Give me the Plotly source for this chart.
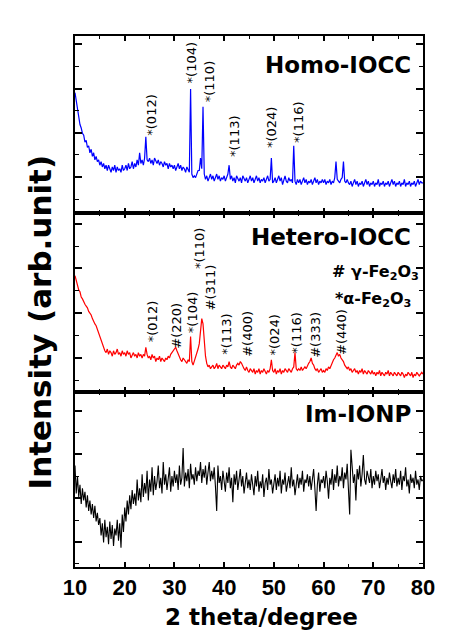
import plotly.graph_objects as go

# 2-theta sampling grid (degrees)
two_theta = [round(10 + 0.25 * i, 2) for i in range(281)]

# Homo-IOCC (blue, top panel), arbitrary units 0-100
homo = (
    [68, 63, 58, 55, 50, 48, 45, 44, 40, 41, 37, 38, 34, 36, 32, 34, 30, 32, 29, 30] +
    [27, 29, 26, 28, 25, 27, 24, 27, 25, 23, 26, 24, 27, 23, 26, 24, 25, 23, 27, 24] +
    [25, 27, 24, 28, 25, 26, 29, 25, 28, 26, 30, 27, 34, 28, 30, 27, 31, 43, 30, 29] +
    [31, 28, 30, 27, 31, 29, 28, 30, 27, 29, 28, 26, 29, 27, 28, 25, 28, 26, 27, 25] +
    [27, 24, 26, 28, 25, 27, 24, 26, 25, 23, 26, 24, 23, 70, 22, 20, 21, 20, 22, 24] +
    [24, 31, 25, 60, 22, 19, 21, 18, 20, 22, 19, 21, 18, 20, 22, 19, 21, 18, 20, 19] +
    [21, 18, 20, 22, 27, 19, 21, 18, 20, 17, 21, 19, 18, 20, 17, 21, 19, 18, 20, 17] +
    [19, 21, 18, 20, 17, 19, 21, 18, 20, 17, 19, 18, 20, 17, 19, 21, 18, 19, 31, 17] +
    [18, 20, 17, 19, 21, 18, 20, 16, 19, 21, 18, 17, 20, 18, 19, 17, 38, 18, 16, 19] +
    [17, 19, 16, 18, 20, 17, 19, 16, 18, 17, 19, 16, 18, 20, 17, 19, 16, 18, 17, 19] +
    [17, 19, 16, 18, 17, 19, 16, 18, 17, 20, 29, 19, 18, 17, 19, 20, 29, 18, 17, 19] +
    [17, 16, 18, 15, 17, 19, 16, 18, 15, 17, 16, 18, 15, 17, 19, 16, 18, 15, 17, 16] +
    [18, 15, 17, 16, 19, 15, 17, 16, 18, 15, 17, 16, 18, 15, 17, 19, 16, 18, 15, 17] +
    [16, 18, 15, 17, 16, 19, 15, 17, 16, 18, 15, 17, 16, 18, 15, 17, 19, 16, 18, 17] +
    [17]
)

# Hetero-IOCC (red, middle panel)
hetero = (
    [65, 62, 60, 57, 56, 53, 52, 50, 49, 48, 47, 45, 44, 43, 41, 39, 38, 37, 35, 33] +
    [30, 28, 26, 24, 23, 22, 24, 21, 23, 22, 20, 23, 21, 22, 24, 21, 22, 20, 23, 21] +
    [22, 20, 23, 21, 22, 19, 21, 22, 20, 21, 19, 22, 20, 21, 19, 21, 20, 25, 21, 19] +
    [20, 18, 21, 19, 20, 17, 19, 18, 20, 17, 19, 18, 17, 19, 18, 20, 19, 21, 22, 23] +
    [24, 25, 23, 21, 19, 18, 17, 19, 18, 17, 16, 18, 17, 31, 17, 15, 17, 19, 21, 24] +
    [27, 33, 41, 38, 28, 20, 16, 14, 15, 13, 14, 15, 13, 14, 16, 13, 15, 14, 13, 15] +
    [14, 13, 15, 14, 17, 14, 13, 15, 14, 13, 15, 16, 15, 17, 16, 14, 13, 12, 14, 12] +
    [11, 13, 12, 11, 13, 10, 12, 11, 13, 10, 12, 11, 13, 11, 10, 12, 11, 13, 18, 12] +
    [11, 13, 10, 12, 11, 13, 10, 12, 11, 13, 12, 11, 13, 12, 11, 13, 14, 22, 13, 12] +
    [13, 12, 14, 12, 13, 14, 13, 15, 16, 17, 19, 16, 15, 13, 12, 13, 11, 12, 13, 11] +
    [12, 11, 13, 12, 14, 13, 15, 16, 18, 19, 21, 22, 20, 21, 19, 18, 17, 15, 14, 13] +
    [14, 12, 13, 11, 12, 13, 11, 12, 10, 12, 11, 13, 10, 12, 11, 10, 12, 11, 10, 12] +
    [10, 11, 9, 11, 10, 12, 9, 11, 10, 9, 11, 10, 12, 9, 11, 10, 9, 11, 10, 9] +
    [11, 10, 9, 11, 10, 8, 10, 9, 11, 10, 9, 11, 8, 10, 9, 11, 10, 9, 10, 11] +
    [10]
)

# Im-IONP (black, bottom panel)
ionp = (
    [58, 42, 52, 40, 47, 36, 45, 38, 43, 34, 41, 32, 38, 30, 36, 28, 35, 26, 31, 24] +
    [28, 18, 25, 14, 27, 17, 23, 13, 26, 16, 24, 12, 22, 18, 27, 15, 25, 11, 30, 20] +
    [34, 26, 38, 30, 41, 33, 44, 36, 42, 35, 50, 38, 45, 37, 53, 40, 48, 42, 55, 38] +
    [50, 43, 57, 41, 52, 44, 49, 58, 45, 51, 42, 60, 47, 53, 44, 50, 57, 43, 52, 46] +
    [55, 48, 53, 44, 58, 47, 51, 68, 46, 54, 49, 56, 45, 59, 50, 53, 47, 57, 49, 55] +
    [52, 60, 48, 56, 51, 58, 47, 54, 60, 49, 55, 50, 57, 46, 32, 58, 48, 52, 44, 55] +
    [50, 43, 54, 48, 57, 45, 51, 37, 53, 47, 55, 44, 50, 56, 46, 52, 42, 49, 54, 45] +
    [50, 44, 53, 47, 41, 52, 46, 55, 43, 49, 45, 53, 40, 48, 51, 44, 56, 47, 50, 42] +
    [48, 53, 44, 51, 46, 55, 42, 50, 47, 54, 43, 49, 52, 45, 57, 46, 50, 41, 48, 53] +
    [45, 51, 47, 55, 43, 50, 48, 53, 46, 52, 44, 49, 56, 45, 32, 47, 54, 43, 50, 48] +
    [52, 45, 55, 49, 39, 51, 47, 56, 44, 53, 48, 58, 46, 52, 49, 57, 45, 54, 50, 59] +
    [47, 30, 67, 55, 48, 53, 38, 56, 50, 58, 46, 53, 64, 50, 47, 55, 51, 48, 56, 45] +
    [52, 47, 55, 49, 53, 45, 50, 56, 48, 52, 44, 51, 47, 54, 49, 45, 53, 48, 56, 46] +
    [51, 47, 55, 44, 52, 49, 57, 46, 50, 42, 53, 48, 51, 45, 55, 47, 50, 44, 52, 49] +
    [50]
)

x_tick_vals = [10, 20, 30, 40, 50, 60, 70, 80]
x_tick_text = ["10", "20", "30", "40", "50", "60", "70", "80"]

# Peak labels: (text, 2theta, height)
homo_labels = [("*(012)", 25.5, 55), ("*(104)", 33.5, 85), ("*(110)", 37.0, 74),
               ("*(113)", 42.2, 43), ("*(024)", 49.4, 48.5), ("*(116)", 55.1, 51)]
hetero_labels = [("*(012)", 25.5, 39), ("#(220)", 30.5, 37), ("*(104)", 33.7, 44.5),
                 ("*(110)", 35.2, 80), ("#(311)", 37.2, 58.5), ("*(113)", 40.6, 32),
                 ("#(400)", 44.8, 32.5), ("*(024)", 50.2, 32), ("*(116)", 54.6, 33),
                 ("#(333)", 58.5, 32), ("#(440)", 63.5, 33.5)]
panel_names = ["Homo-IOCC", "Hetero-IOCC", "Im-IONP"]

fig = go.Figure()
fig.add_trace(go.Scatter(x=two_theta, y=homo, mode="lines",
                         line=dict(color="#0000ff", width=1.2), xaxis="x3", yaxis="y3"))
fig.add_trace(go.Scatter(x=two_theta, y=hetero, mode="lines",
                         line=dict(color="#ff0000", width=1.2), xaxis="x2", yaxis="y2"))
fig.add_trace(go.Scatter(x=two_theta, y=ionp, mode="lines",
                         line=dict(color="#000000", width=1.1), xaxis="x", yaxis="y"))

common_x = dict(range=[10, 80], showline=True, linecolor="black", linewidth=2,
                mirror="ticks", ticks="inside", ticklen=5, tickwidth=1.5, tickcolor="black",
                tickmode="array", tickvals=x_tick_vals, ticktext=x_tick_text,
                minor=dict(ticks="inside", ticklen=3, dtick=5, tick0=5, tickcolor="black",
                           tickwidth=1.2),
                showgrid=False, zeroline=False)

def yax(domain, t0):
    return dict(domain=domain, range=[0, 100], showline=True, linecolor="black",
                linewidth=2, mirror="ticks", ticks="inside", ticklen=7, tickwidth=1.5,
                tickcolor="black", tick0=t0, dtick=25, showticklabels=False,
                minor=dict(ticks="inside", ticklen=4, tick0=t0 - 12.5, dtick=25,
                           tickcolor="black", tickwidth=1.2),
                showgrid=False, zeroline=False, fixedrange=True)

fig.update_layout(
    width=463, height=633,
    margin=dict(l=75, r=40, t=36, b=66),
    plot_bgcolor="white", paper_bgcolor="white",
    showlegend=False,
    xaxis=dict(common_x, anchor="y", showticklabels=True,
               tickfont=dict(family="Liberation Sans", size=22, color="black", weight="bold")),
    xaxis2=dict(common_x, anchor="y2", matches="x", showticklabels=False),
    xaxis3=dict(common_x, anchor="y3", matches="x", showticklabels=False),
    yaxis=yax([0, 0.3296], 14.3),
    yaxis2=yax([0.3296, 0.6667], 19),
    yaxis3=yax([0.6667, 1], 20.3),
)

ann = []
for text, xv, yv in homo_labels:
    ann.append(dict(x=xv, y=yv, xref="x3", yref="y3", text=text, showarrow=False,
                    textangle=-90, font=dict(family="DejaVu Sans", size=13, color="black")))
for text, xv, yv in hetero_labels:
    ann.append(dict(x=xv, y=yv, xref="x2", yref="y2", text=text, showarrow=False,
                    textangle=-90, font=dict(family="DejaVu Sans", size=13, color="black")))

name_pos = [("x3", "y3", 83.6), ("x2", "y2", 86.6), ("x", "y", 87.4)]
for name, (xr, yr, yv) in zip(panel_names, name_pos):
    ann.append(dict(x=78.0, y=yv, xref=xr, yref=yr, text=name, showarrow=False,
                    xanchor="right", yanchor="middle",
                    font=dict(family="DejaVu Sans", size=23, color="black", weight="bold")))

ann.append(dict(x=70.4, y=67, xref="x2", yref="y2", text="# γ-Fe<sub>2</sub>O<sub>3</sub>",
                showarrow=False, font=dict(family="DejaVu Sans", size=16, color="black",
                                           weight="bold")))
ann.append(dict(x=70.0, y=51.4, xref="x2", yref="y2", text="*α-Fe<sub>2</sub>O<sub>3</sub>",
                showarrow=False, font=dict(family="DejaVu Sans", size=16, color="black",
                                           weight="bold")))

ann.append(dict(x=0.536, y=-0.066, xref="paper", yref="paper", text="2 theta/degree",
                showarrow=False, xanchor="center", yanchor="top",
                font=dict(family="DejaVu Sans", size=23, color="black", weight="bold")))
ann.append(dict(x=-0.10, y=0.461, xref="paper", yref="paper", text="Intensity (arb.unit)",
                showarrow=False, textangle=-90, xanchor="center", yanchor="middle",
                font=dict(family="DejaVu Sans", size=31, color="black", weight="bold")))

fig.update_layout(annotations=ann)
fig.write_html("out.html")
